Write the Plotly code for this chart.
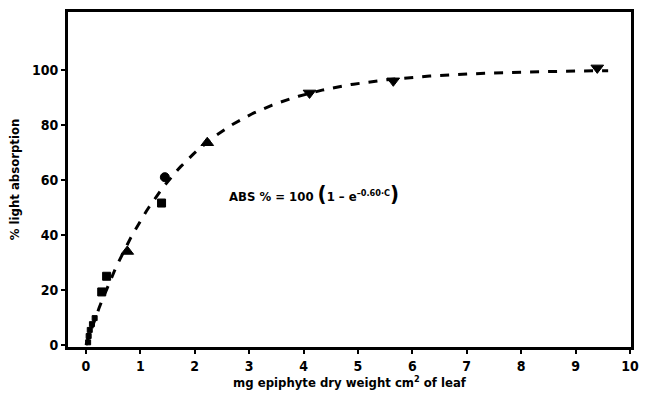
import numpy as np
import plotly.graph_objects as go

# Measured epiphyte load (mg dry weight per cm2 of leaf) and light absorption (%)
small_x = [0.04, 0.05, 0.07, 0.11, 0.16]
small_y = [1.0, 3.3, 5.5, 7.6, 9.8]

square_x = [0.29, 0.38, 1.39]
square_y = [19.3, 25.0, 51.6]

circle_x = [1.45]
circle_y = [61.0]

tri_up_x = [0.76, 2.23]
tri_up_y = [34.0, 73.5]

tri_down_x = [4.11, 5.65, 9.40]
tri_down_y = [91.6, 96.0, 100.7]

x_ticks = [0, 1, 2, 3, 4, 5, 6, 7, 8, 9, 10]
y_ticks = [0, 20, 40, 60, 80, 100]

# Fitted curve ABS% = 100 (1 - e^(-k C))
k_fit = 0.60
asymptote = 100
curve_x = np.linspace(0, 9.6, 200)
curve_y = asymptote * (1 - np.exp(-k_fit * curve_x))

FONT = "DejaVu Sans Condensed, Liberation Sans Narrow, DejaVu Sans"
INK = "black"
EDGE = dict(color=INK, width=1)

fig = go.Figure()

fig.add_trace(go.Scatter(x=curve_x, y=curve_y, mode="lines",
                         line=dict(color=INK, width=3, dash="dash"),
                         hoverinfo="skip", showlegend=False))

fig.add_trace(go.Scatter(x=small_x, y=small_y, mode="markers",
                         marker=dict(symbol="square", size=5, color=INK, line=EDGE, opacity=1),
                         showlegend=False))
fig.add_trace(go.Scatter(x=square_x, y=square_y, mode="markers",
                         marker=dict(symbol="square", size=8, color=INK, line=EDGE, opacity=1),
                         showlegend=False))
fig.add_trace(go.Scatter(x=circle_x, y=circle_y, mode="markers",
                         marker=dict(symbol="circle", size=9, color=INK, line=EDGE, opacity=1),
                         showlegend=False))
fig.add_trace(go.Scatter(x=tri_up_x, y=tri_up_y, mode="markers",
                         marker=dict(symbol="triangle-up", size=11, color=INK, line=EDGE, opacity=1),
                         showlegend=False))
fig.add_trace(go.Scatter(x=tri_down_x, y=tri_down_y, mode="markers",
                         marker=dict(symbol="triangle-down", size=11, color=INK, line=EDGE, opacity=1),
                         showlegend=False))

fig.add_annotation(x=4.2, y=55, xref="x", yref="y", showarrow=False,
                   text="ABS % = 100 <span style='font-size:22px'>(</span>1 – e<sup>–0.60·C</sup><span style='font-size:22px'>)</span>",
                   font=dict(family=FONT, size=13, color=INK, weight="bold"))

axis_common = dict(showline=True, linecolor=INK, linewidth=3, mirror=True,
                   ticks="outside", ticklen=4, tickwidth=2, tickcolor=INK,
                   showgrid=False, zeroline=False,
                   tickfont=dict(family=FONT, size=14, color=INK, weight="bold"))

fig.update_xaxes(range=[-0.33, 10.02], tickvals=x_ticks,
                 title=dict(text="mg epiphyte dry weight cm<sup>2</sup> of leaf",
                            font=dict(family=FONT, size=13, color=INK, weight="bold"),
                            standoff=6),
                 **axis_common)
fig.update_yaxes(range=[-0.7, 121], tickvals=y_ticks,
                 title=dict(text="% light absorption",
                            font=dict(family=FONT, size=13, color=INK, weight="bold"),
                            standoff=10),
                 **axis_common)

fig.update_layout(width=646, height=402,
                  margin=dict(l=68, r=7, t=12, b=55),
                  paper_bgcolor="white", plot_bgcolor="white")

fig.write_html("out.html")
